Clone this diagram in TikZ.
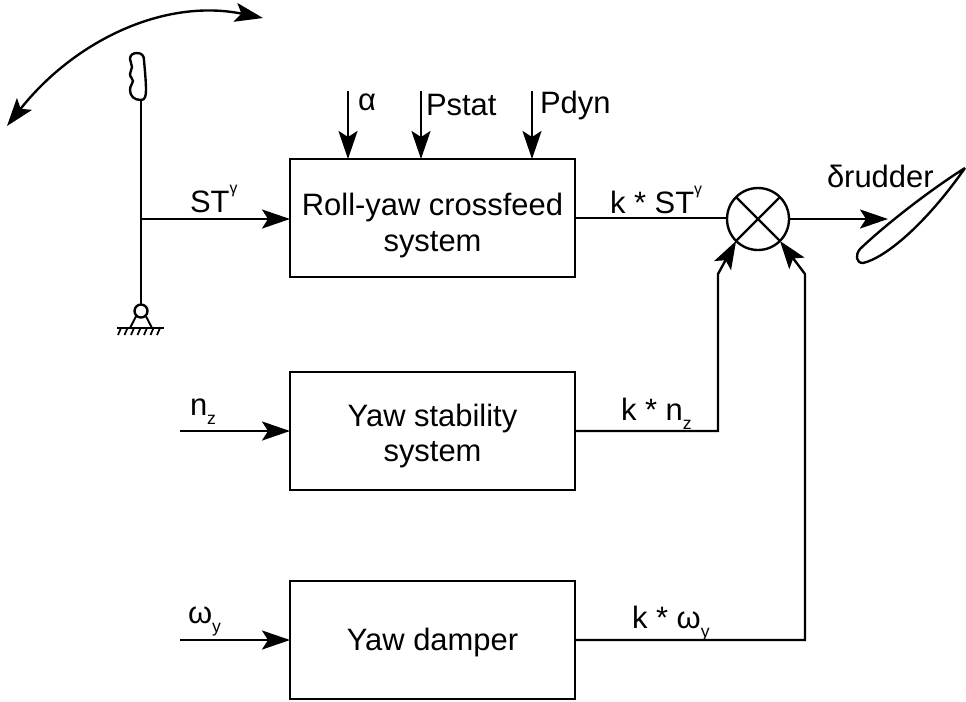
\documentclass[tikz,border=0pt]{standalone}
\usepackage{fontspec}
\setmainfont{Liberation Sans}
\usetikzlibrary{arrows.meta}
\newcommand{\lowidx}[1]{\raisebox{-.3em}{\fontsize{10}{12}\selectfont #1}}
\newcommand{\highidx}[1]{\raisebox{.6em}{\fontsize{9}{11}\selectfont #1}}
\newcommand{\boxline}[2]{\raisebox{#1}[.8em][.25em]{#2}}
\tikzset{
  sysbox/.style={draw,line width=1.35pt,minimum width=5.7cm,minimum height=2.36cm,align=center,outer sep=0pt,inner sep=0pt},
  lab/.style={anchor=base west,inner sep=0pt,outer sep=0pt},
  flow/.style={line width=1.35pt,-{Stealth[length=.56cm,width=.38cm,inset=.12cm]}},
  wire/.style={line width=1.35pt},
}
\begin{document}
\begin{tikzpicture}[x=.02cm,y=-.02cm,font=\fontsize{17.6}{20.5}\selectfont,line join=miter]
        \useasboundingbox (0,0) rectangle (966,701);
        % blocks
        \node[sysbox] (roll) at (432.5,218) {\boxline{-.13cm}{Roll-yaw crossfeed}\\\boxline{-.13cm}{system}};
        \node[sysbox] (stab) at (432.5,431) {\boxline{-.1cm}{Yaw stability}\\\boxline{-.07cm}{system}};
        \node[sysbox] (damp) at (432.5,640) {\boxline{-.03cm}{Yaw damper}};
        \node[draw,circle,line width=1.35pt,minimum size=1.24cm,inner sep=0pt,outer sep=0pt] (sum) at (758,219) {};
        \draw[wire] (sum.45)--(sum.225);
        \draw[wire] (sum.135)--(sum.315);
        % stick
        \node[draw,circle,line width=1.35pt,minimum size=.26cm,inner sep=0pt,outer sep=0pt] (pivot) at (141,311) {};
        \coordinate (gripend) at (141,100);
        \coordinate (stickjoint) at (141,219);
        \draw[wire] (gripend)--(pivot.north);
        \draw[wire] (gripend)..controls (134,100) and (130,96)..(130,90)
          ..controls (130,85) and (133,84)..(133,81)
          ..controls (133,78) and (130,78)..(130,74)
          ..controls (130,71) and (132,70)..(132,67)
          ..controls (132,64) and (130,62)..(130,59)
          ..controls (130,55) and (133,53)..(137,53)
          ..controls (142,53) and (144,56)..(144,60)
          ..controls (145,72) and (146,82)..(146,90)
          ..controls (146,96) and (145,100)..(gripend);
        \draw[line width=1.1pt] (pivot.south west)--(130,328);
        \draw[line width=1.1pt] (pivot.south east)--(152,328);
        \draw[wire] (117,328)--(164,328);
        \foreach \xx in {121,127.5,...,163}
        \draw[line width=1pt] (\xx,328)--++(-3,7);
        % swing of the stick
        \coordinate (swingleft) at (7,126);
        \coordinate (swingright) at (263,18);
        \draw[line width=1.35pt,{Stealth[length=.56cm,width=.38cm,inset=.12cm]}-{Stealth[length=.56cm,width=.38cm,inset=.12cm]}]
          (swingleft)..controls (75,40) and (165,-2)..(swingright);
        % inputs
        \draw[flow] (stickjoint)--(stickjoint -| roll.west);
        \node[lab] (stlab) at (190,212) {ST\highidx{γ}};
        \coordinate (alphain) at (348,91);
        \coordinate (pstatin) at (421,91);
        \coordinate (pdynin) at (532,91);
        \draw[flow] (alphain)--(alphain |- roll.north);
        \draw[flow] (pstatin)--(pstatin |- roll.north);
        \draw[flow] (pdynin)--(pdynin |- roll.north);
        \node[lab] (alphalab) at (358,110) {α};
        \node[lab] (pstatlab) at (426,115) {Pstat};
        \node[lab] (pdynlab) at (540,113) {Pdyn};
        \coordinate (nzin) at (180,431);
        \coordinate (omin) at (180,640);
        \draw[flow] (nzin)--(stab.west);
        \draw[flow] (omin)--(damp.west);
        \node[lab] (nzlab) at (190,415) {n\lowidx{z}};
        \node[lab] (omlab) at (188,623) {ω\lowidx{y}};
        % outputs
        \coordinate (nzknee) at (718,274);
        \coordinate (omknee) at (805,274);
        \coordinate (foil) at (888,219);
        \draw[wire] (roll.east)--(roll.east -| sum.west);
        \draw[flow] (stab.east)-|(nzknee)--(sum.225);
        \draw[flow] (damp.east)-|(omknee)--(sum.315);
        \draw[flow] (sum.east)--(foil);
        \node[lab] (kstlab) at (610,213) {k * ST\highidx{γ}};
        \node[lab] (knzlab) at (621,420) {k * n\lowidx{z}};
        \node[lab] (komlab) at (632,628) {k * ω\lowidx{y}};
        \node[lab] (rudlab) at (827,187) {δrudder};
        % rudder
        \draw[wire] (965,168)..controls (930,190) and (885,225)..(860,249)
          ..controls (855,255) and (856,263)..(863,263)
          ..controls (885,258) and (925,225)..(965,168);
\end{tikzpicture}
\end{document}
